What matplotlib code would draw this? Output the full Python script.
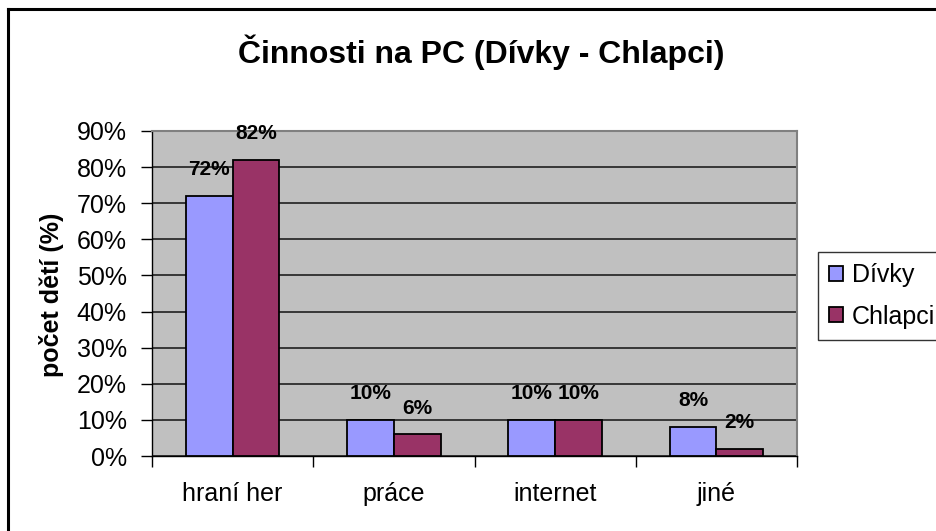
import matplotlib
matplotlib.use("Agg")
import matplotlib.pyplot as plt
import numpy as np
from matplotlib.lines import Line2D

categories = ["hraní her", "práce", "internet", "jiné"]
divky = [72, 10, 10, 8]
chlapci = [82, 6, 10, 2]
series_names = ["Dívky", "Chlapci"]
yticks = [0, 10, 20, 30, 40, 50, 60, 70, 80, 90]
title = "Činnosti na PC (Dívky - Chlapci)"
ylabel = "počet dětí (%)"

plt.rcParams['font.family'] = ['Liberation Sans', 'DejaVu Sans']

W, H = 937, 531
fig = plt.figure(figsize=(W / 100, H / 100), dpi=100)
ax = fig.add_axes([152 / W, 1 - 456 / H, (797 - 152) / W, (456 - 131) / H])

x = np.arange(len(categories))
bw = 0.29
b1 = ax.bar(x - bw / 2, divky, bw, color='#9999FF', edgecolor='black', linewidth=1.3, label=series_names[0], zorder=3)
b2 = ax.bar(x + bw / 2, chlapci, bw, color='#993366', edgecolor='black', linewidth=1.3, label=series_names[1], zorder=3)

for bars, vals in ((b1, divky), (b2, chlapci)):
    for r, v in zip(bars, vals):
        ax.annotate(f"{v}%", (r.get_x() + r.get_width() / 2, v), xytext=(0, 12),
                    textcoords='offset points', ha='center', va='bottom',
                    fontsize=15, fontweight='bold', zorder=4)

ax.set_facecolor('#C0C0C0')
ax.set_ylim(0, 90)
ax.set_xlim(-0.5, len(categories) - 0.5)
ax.set_yticks(yticks)
ax.set_yticklabels([f"{t}%" for t in yticks], fontsize=18)
ax.yaxis.grid(True, color='#202020', linewidth=1.2, zorder=1)
ax.set_axisbelow(True)

ax.set_xticks(np.arange(len(categories) + 1) - 0.5)
ax.set_xticklabels([])
ax.set_xticks(x, minor=True)
ax.set_xticklabels(categories, minor=True, fontsize=18)
ax.tick_params(axis='x', which='minor', length=0, pad=19)
ax.tick_params(axis='x', which='major', length=8, width=1, direction='out')
ax.tick_params(axis='y', length=8, width=1, direction='out', pad=10)

for s in ('top', 'right'):
    ax.spines[s].set_color('#808080')
    ax.spines[s].set_linewidth(1.5)
for s in ('left', 'bottom'):
    ax.spines[s].set_color('black')
    ax.spines[s].set_linewidth(1.0)

fig.text(52 / W, 1 - 295 / H, ylabel, rotation=90, ha='center', va='center',
         fontsize=18, fontweight='bold')
fig.text(481 / W, 1 - 52 / H, title, ha='center', va='center',
         fontsize=23, fontweight='bold')

leg = fig.legend(handles=[b1, b2], labels=series_names, loc='upper left',
                 bbox_to_anchor=(818 / W, 1 - 252 / H), frameon=True, fancybox=False,
                 edgecolor='black', fontsize=18, handlelength=0.55, handleheight=0.55,
                 handletextpad=0.35, labelspacing=0.7, borderpad=0.45, borderaxespad=0)
leg.get_frame().set_linewidth(1.0)

fig.add_artist(Line2D([8 / W, 8 / W], [0, 1 - 9 / H], color='black', linewidth=2.2, transform=fig.transFigure))
fig.add_artist(Line2D([8 / W, 1], [1 - 9 / H, 1 - 9 / H], color='black', linewidth=2.2, transform=fig.transFigure))

fig.savefig("out.png", dpi=100)
